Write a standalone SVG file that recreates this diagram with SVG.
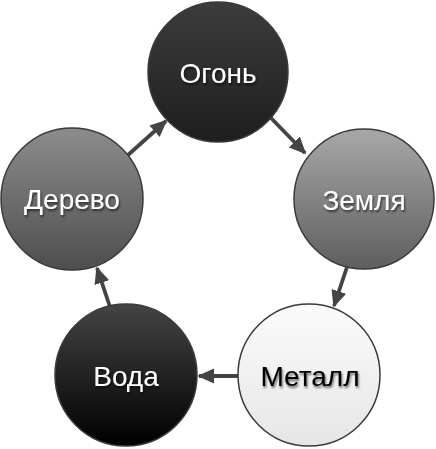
<svg xmlns="http://www.w3.org/2000/svg" width="436" height="449" viewBox="0 0 436 449">
<defs>
<linearGradient id="gFire" x1="0" y1="0" x2="0" y2="1"><stop offset="0" stop-color="#3c3c3c"/><stop offset="1" stop-color="#1e1e1e"/></linearGradient>
<linearGradient id="gEarth" x1="0" y1="0" x2="0" y2="1"><stop offset="0" stop-color="#a8a8a8"/><stop offset="1" stop-color="#5e5e5e"/></linearGradient>
<linearGradient id="gMetal" x1="0" y1="0" x2="0" y2="1"><stop offset="0" stop-color="#fbfbfb"/><stop offset="1" stop-color="#e6e6e6"/></linearGradient>
<linearGradient id="gWater" x1="0" y1="0" x2="0" y2="1"><stop offset="0" stop-color="#444"/><stop offset="1" stop-color="#000"/></linearGradient>
<linearGradient id="gWood" x1="0" y1="0" x2="0" y2="1"><stop offset="0" stop-color="#8c8c8c"/><stop offset="1" stop-color="#4e4e4e"/></linearGradient>
<marker id="arr" viewBox="0 0 10 10" refX="9" refY="5" markerWidth="4.5" markerHeight="4.5" orient="auto" markerUnits="strokeWidth"><path d="M0,0.5 L10,5 L0,9.5 z" fill="#444"/></marker>
<filter id="ts" x="-20%" y="-30%" width="140%" height="160%"><feDropShadow dx="1" dy="2" stdDeviation="1.2" flood-color="#000" flood-opacity="0.6"/></filter>
</defs>
<style>
.c{stroke:#3a3a3a;stroke-width:1.5}
.t{font-family:"Liberation Sans",Arial,sans-serif;font-size:28px;text-anchor:middle;filter:url(#ts)}
.w{fill:#fff}
.b{fill:#000}
.e{stroke:#444;stroke-width:3.8;fill:none;marker-end:url(#arr)}
</style>
<g id="connectors">
<line class="e" x1="271" y1="118" x2="305" y2="153"/>
<line class="e" x1="347" y1="267" x2="334" y2="306"/>
<line class="e" x1="238" y1="376" x2="199" y2="376"/>
<line class="e" x1="110" y1="307" x2="97" y2="268"/>
<line class="e" x1="128" y1="155" x2="166" y2="121"/>
</g>
<g id="fire"><circle class="c" cx="218" cy="72" r="70" fill="url(#gFire)"/><text class="t w" x="218" y="83">Огонь</text></g>
<g id="earth"><circle class="c" cx="364" cy="199" r="70" fill="url(#gEarth)"/><text class="t w" x="364" y="210">Земля</text></g>
<g id="metal"><circle class="c" cx="309" cy="375" r="71" fill="url(#gMetal)"/><text class="t b" x="310" y="386">Металл</text></g>
<g id="water"><circle class="c" cx="126" cy="375" r="71" fill="url(#gWater)"/><text class="t w" x="126" y="386">Вода</text></g>
<g id="wood"><circle class="c" cx="72" cy="199" r="71" fill="url(#gWood)"/><text class="t w" x="72" y="209">Дерево</text></g>
</svg>
